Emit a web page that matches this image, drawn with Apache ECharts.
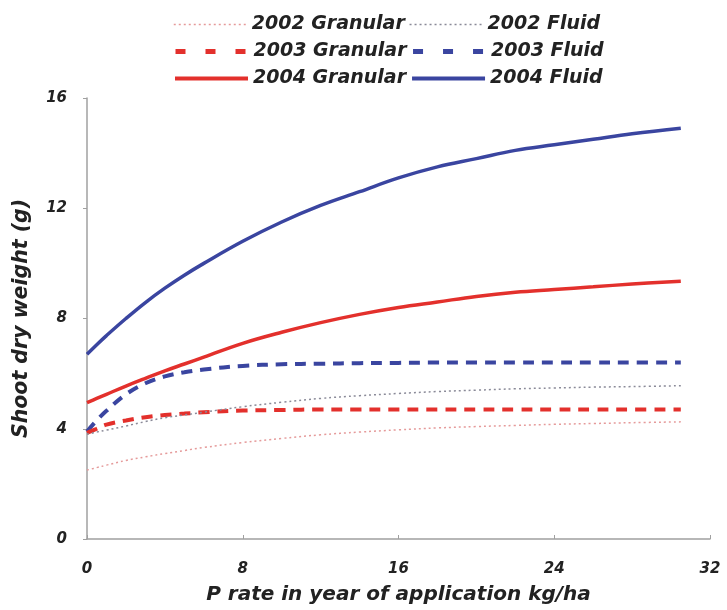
<!DOCTYPE html>
<html>
<head>
<meta charset="utf-8">
<script src="https://cdn.jsdelivr.net/npm/echarts@6/dist/echarts.min.js"></script>
<style>
html,body{margin:0;padding:0;background:#fff;}
#chart{width:727px;height:610px;}
</style>
</head>
<body>
<div id="chart"></div>
<script>
// P rate (kg/ha) sample points
const pRates = [0, 0.5, 1, 2, 3, 4, 5, 6, 8, 10, 12, 14, 16, 18, 20, 22, 24, 26, 28, 30.5];
const granular2002 = [2.5, 2.59, 2.68, 2.85, 2.98, 3.1, 3.21, 3.32, 3.5, 3.65, 3.78, 3.88, 3.96, 4.03, 4.08, 4.12, 4.16, 4.19, 4.22, 4.25];
const fluid2002    = [3.8, 3.88, 3.95, 4.1, 4.26, 4.4, 4.5, 4.6, 4.8, 4.96, 5.1, 5.2, 5.28, 5.35, 5.4, 5.45, 5.48, 5.51, 5.53, 5.56];
const granular2003 = [3.85, 4.0, 4.15, 4.3, 4.42, 4.5, 4.55, 4.6, 4.66, 4.68, 4.7, 4.7, 4.7, 4.7, 4.7, 4.7, 4.7, 4.7, 4.7, 4.7];
const fluid2003    = [3.9, 4.3, 4.65, 5.25, 5.65, 5.9, 6.05, 6.15, 6.28, 6.34, 6.36, 6.38, 6.39, 6.4, 6.4, 6.4, 6.4, 6.4, 6.4, 6.4];
const granular2004 = [4.95, 5.1, 5.25, 5.55, 5.83, 6.1, 6.35, 6.6, 7.1, 7.5, 7.85, 8.15, 8.4, 8.6, 8.8, 8.95, 9.05, 9.15, 9.25, 9.35];
const fluid2004    = [6.7, 7.05, 7.38, 8.0, 8.58, 9.1, 9.57, 10.0, 10.8, 11.5, 12.1, 12.6, 13.1, 13.5, 13.8, 14.1, 14.3, 14.5, 14.7, 14.9];
const seriesNames = ['2002 Granular', '2002 Fluid', '2003 Granular', '2003 Fluid', '2004 Granular', '2004 Fluid'];
const xTicks = [0, 8, 16, 24, 32];
const yTicks = [0, 4, 8, 12, 16];

const RED = '#e3302c', BLUE = '#3a45a0';
const font = '"DejaVu Sans", Verdana, sans-serif';
const pairs = ys => pRates.map((x, i) => [x, ys[i]]);
const styles = [
  {color: '#e59a9a', width: 1.5, type: [2, 3]},
  {color: '#8a8a98', width: 1.5, type: [2, 3]},
  {color: RED, width: 4, type: [11, 8]},
  {color: BLUE, width: 4, type: [11, 8]},
  {color: RED, width: 3.5, type: 'solid'},
  {color: BLUE, width: 3.5, type: 'solid'}
];
const dataSets = [granular2002, fluid2002, granular2003, fluid2003, granular2004, fluid2004];

const series = dataSets.map((d, i) => ({
  name: seriesNames[i],
  type: 'line',
  smooth: 0.4,
  symbol: 'none',
  data: pairs(d),
  lineStyle: styles[i],
  itemStyle: {color: styles[i].color},
  z: 10 - i
}));

const legendText = {fontFamily: font, fontStyle: 'italic', fontWeight: 'bold', fontSize: 19, color: '#222'};
const legendLine = [{type: [2, 3], width: 1.5}, {type: [10, 20], width: 5}, {type: 'solid', width: 4}];
const legends = [0, 1, 2].map(r => ({
  data: [seriesNames[2 * r], seriesNames[2 * r + 1]],
  left: 168,
  top: 10 + r * 27,
  orient: 'horizontal',
  itemWidth: 73,
  itemHeight: 14,
  itemGap: 4,
  textStyle: legendText,
  itemStyle: {opacity: 0},
  lineStyle: legendLine[r],
  selectedMode: false
}));

const chart = echarts.init(document.getElementById('chart'), null, {renderer: 'canvas'});
chart.setOption({
  backgroundColor: '#fff',
  animation: false,
  legend: legends,
  grid: {left: 87, right: 17, top: 98, bottom: 70, containLabel: false},
  xAxis: {
    type: 'value', min: xTicks[0], max: xTicks[xTicks.length - 1], interval: 8,
    name: 'P rate in year of application kg/ha',
    nameLocation: 'middle', nameGap: 46,
    nameTextStyle: {fontFamily: font, fontStyle: 'italic', fontWeight: 'bold', fontSize: 20, color: '#222'},
    axisLine: {lineStyle: {color: '#a0a0a0', width: 1.5}},
    axisTick: {show: true, inside: true, length: 4, lineStyle: {color: '#a0a0a0'}},
    axisLabel: {fontFamily: font, fontStyle: 'italic', fontWeight: 'bold', fontSize: 15, color: '#222', margin: 23},
    splitLine: {show: false}
  },
  yAxis: {
    type: 'value', min: yTicks[0], max: yTicks[yTicks.length - 1], interval: 4,
    name: 'Shoot dry weight (g)',
    nameLocation: 'middle', nameGap: 55,
    nameTextStyle: {fontFamily: font, fontStyle: 'italic', fontWeight: 'bold', fontSize: 20.5, color: '#222'},
    axisLine: {show: true, lineStyle: {color: '#a0a0a0', width: 1.5}},
    axisTick: {show: true, length: 4, lineStyle: {color: '#a0a0a0'}},
    axisLabel: {fontFamily: font, fontStyle: 'italic', fontWeight: 'bold', fontSize: 15, color: '#222', margin: 20},
    splitLine: {show: false}
  },
  series: series
});
</script>
</body>
</html>
